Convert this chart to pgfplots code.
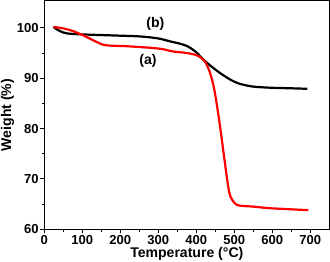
\documentclass[border=0pt]{standalone}
\usepackage{fontspec}
\setmainfont{Liberation Sans}
\usepackage{pgfplots}
\pgfplotsset{compat=1.18}
\begin{document}
\begin{tikzpicture}
\begin{axis}[
  scale only axis,
  width=283bp, height=227bp,
  xmin=0, xmax=750, ymin=60, ymax=105.4,
  xtick={0,100,...,700}, ytick={60,70,...,100},
  minor xtick={50,150,...,650}, minor ytick={65,75,85,95},
  tick align=outside,
  major tick length=4bp, minor tick length=2.5bp,
  xtick pos=bottom, ytick pos=left,
  axis line style={line width=1.4pt},
  every tick/.style={line width=1pt, black},
  /pgf/number format/assume math mode=true,
  ticklabel style={font=\bfseries\fontsize{13}{15}\selectfont, inner sep=1.5pt},
  xlabel={\textbf{Temperature (°C)}},
  ylabel={\textbf{Weight (\%)}},
  label style={font=\bfseries\fontsize{14}{16}\selectfont, inner sep=1pt},
  xlabel style={yshift=-0.5bp},
  clip=false,
]
\addplot[black, line width=2.2pt, smooth] coordinates {
(24,100.2) (40,99.4) (60,98.9) (101,98.7) (180,98.5) (252,98.3) (300,97.9) (332,97.3) (355,96.9)
(378,96.3) (399,95.2) (420,93.6) (442,92.2) (465,90.9) (490,89.7) (510,89.0) (530,88.6) (554,88.3)
(600,88.1) (650,88.0) (692,87.9)};
\addplot[red, line width=2.2pt, smooth] coordinates {
(24,100.2) (50,99.9) (74,99.4) (100,98.6) (119,97.9) (153,96.7) (180,96.45) (207,96.4) (250,96.2)
(279,96.05) (310,95.8) (340,95.3) (376,95.0) (403,94.5) (421,93.5) (434,91.5) (447,87.9)
(461,81.2) (474,73.9) (487,67.2) (501,65.2) (514,64.7) (550,64.5) (590,64.2) (640,64.0) (695,63.8)};
\node[font=\bfseries\fontsize{14}{16}\selectfont] at (axis cs:292,100.8) {(b)};
\node[font=\bfseries\fontsize{14}{16}\selectfont] at (axis cs:273,93.4) {(a)};
\end{axis}
\end{tikzpicture}
\end{document}
